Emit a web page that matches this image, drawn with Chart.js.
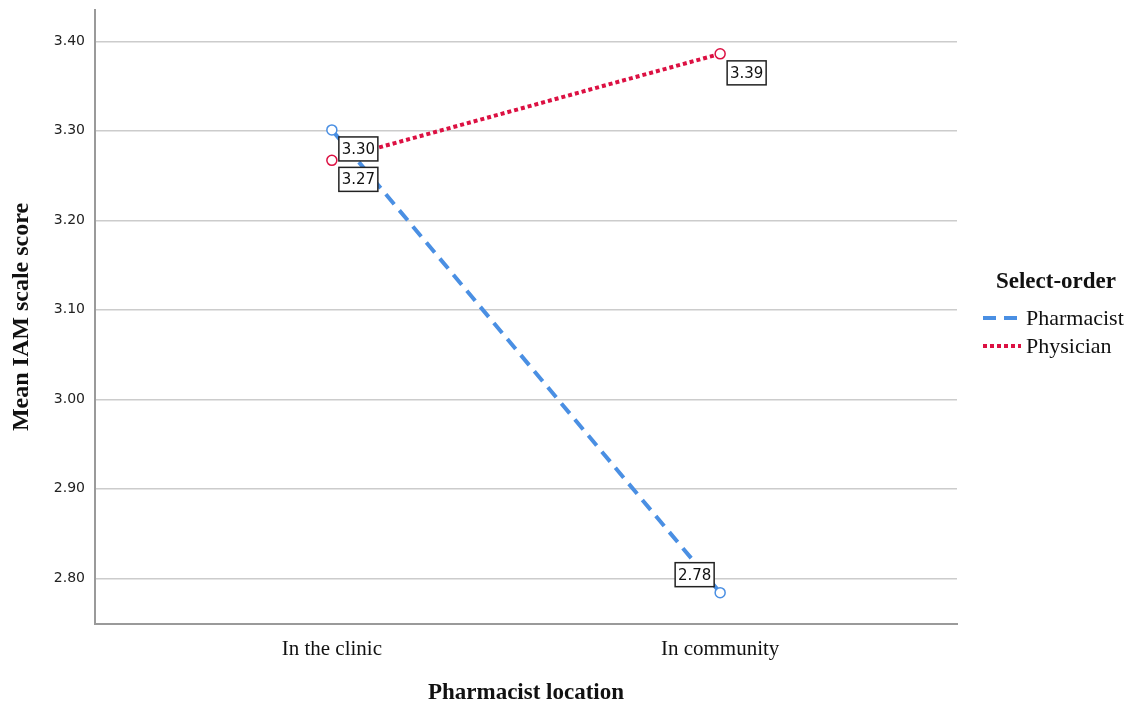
<!DOCTYPE html>
<html>
<head>
<meta charset="utf-8">
<script src="https://cdn.jsdelivr.net/npm/chart.js@4"></script>
<style>
  html, body { margin: 0; padding: 0; background: #fff; }
  #wrap { width: 1132px; height: 705px; }
</style>
</head>
<body>
<div id="wrap"><canvas id="iamChart"></canvas></div>
<script>
const locations = ['In the clinic', 'In community'];
const pharmacistMeans = [3.301, 2.784];
const physicianMeans = [3.267, 3.386];
const yTicks = [2.80, 2.90, 3.00, 3.10, 3.20, 3.30, 3.40];

const serif = '"Liberation Serif", "Times New Roman", serif';
const sans = '"DejaVu Sans", Verdana, sans-serif';

// value boxes next to the points, and the legend on the right
const annotate = {
  id: 'annotate',
  afterDatasetsDraw(chart) {
    const ctx = chart.ctx;
    const where = [
      [0, 0, 'br'], [0, 1, 'tl'],
      [1, 0, 'br'], [1, 1, 'br']
    ];
    ctx.save();
    ctx.font = '15px ' + sans;
    ctx.textBaseline = 'middle';
    ctx.textAlign = 'center';
    where.forEach(([ds, i, side]) => {
      const pt = chart.getDatasetMeta(ds).data[i];
      const txt = chart.data.datasets[ds].data[i].y.toFixed(2);
      const w = 39, h = 24;
      let x = pt.x + 7, y = pt.y + 7;
      if (side === 'tl') { x = pt.x - 6 - w; y = pt.y - 6 - h; }
      ctx.fillStyle = '#fff';
      ctx.fillRect(x, y, w, h);
      ctx.strokeStyle = '#222';
      ctx.lineWidth = 1.5;
      ctx.strokeRect(x, y, w, h);
      ctx.fillStyle = '#111';
      ctx.fillText(txt, x + w / 2, y + h / 2 + 1);
    });
    ctx.restore();
  },
  afterDraw(chart) {
    const ctx = chart.ctx;
    ctx.save();
    ctx.fillStyle = '#111';
    ctx.font = 'bold 23px ' + serif;
    ctx.textAlign = 'center';
    ctx.textBaseline = 'middle';
    ctx.fillText('Select-order', 1056, 282);
    ctx.font = '22px ' + serif;
    ctx.textAlign = 'left';
    chart.data.datasets.forEach((d, k) => {
      const y = 318 + k * 28;
      ctx.strokeStyle = d.borderColor;
      ctx.lineWidth = 4;
      ctx.setLineDash(d.borderDash);
      ctx.beginPath();
      ctx.moveTo(983, y);
      ctx.lineTo(1021, y);
      ctx.stroke();
      ctx.setLineDash([]);
      ctx.fillText(d.label, 1026, y + 1);
    });
    ctx.restore();
  }
};

new Chart(document.getElementById('iamChart'), {
  type: 'line',
  data: {
    datasets: [
      {
        label: 'Pharmacist',
        data: pharmacistMeans.map((v, i) => ({ x: i + 1, y: v })),
        borderColor: '#4a8fe3',
        borderWidth: 4,
        borderDash: [13, 8],
        pointRadius: 5,
        pointBorderWidth: 1.5,
        pointBackgroundColor: '#fff',
        pointBorderColor: '#4a8fe3'
      },
      {
        label: 'Physician',
        data: physicianMeans.map((v, i) => ({ x: i + 1, y: v })),
        borderColor: '#dc1042',
        borderWidth: 4,
        borderDash: [4, 3],
        pointRadius: 5,
        pointBorderWidth: 1.5,
        pointBackgroundColor: '#fff',
        pointBorderColor: '#dc1042'
      }
    ]
  },
  options: {
    responsive: true,
    maintainAspectRatio: false,
    animation: false,
    layout: { padding: { top: 10, right: 175, left: 0, bottom: 0 } },
    plugins: {
      legend: { display: false },
      tooltip: { enabled: false }
    },
    scales: {
      x: {
        type: 'linear',
        min: 0.39,
        max: 2.61,
        afterBuildTicks: (axis) => { axis.ticks = locations.map((c, i) => ({ value: i + 1 })); },
        afterFit: (axis) => {
          axis.height = 81;
          axis.paddingLeft = 0;
          axis.paddingRight = 0;
        },
        grid: { display: false, drawTicks: false },
        border: { color: '#9a9a9a', width: 2 },
        ticks: {
          padding: 13,
          color: '#111',
          font: { family: serif, size: 21 },
          callback: (v) => locations[v - 1]
        },
        title: {
          display: true,
          text: 'Pharmacist location',
          color: '#111',
          font: { family: serif, size: 23, weight: 'bold' },
          padding: { top: 0, bottom: -2 }
        }
      },
      y: {
        min: 2.749,
        max: 3.435,
        afterBuildTicks: (axis) => { axis.ticks = yTicks.map(v => ({ value: v })); },
        afterFit: (axis) => {
          axis.width = 95;
          axis.paddingTop = 0;
          axis.paddingBottom = 0;
        },
        grid: { color: '#cccccc', lineWidth: 1.5, drawTicks: false },
        border: { color: '#9a9a9a', width: 2 },
        ticks: {
          padding: 10,
          color: '#222',
          font: { family: sans, size: 14 },
          callback: (v) => v.toFixed(2)
        },
        title: {
          display: true,
          text: 'Mean IAM scale score',
          color: '#111',
          font: { family: serif, size: 24, weight: 'bold' },
          padding: { top: 7, bottom: 0 }
        }
      }
    }
  },
  plugins: [annotate]
});
</script>
</body>
</html>
